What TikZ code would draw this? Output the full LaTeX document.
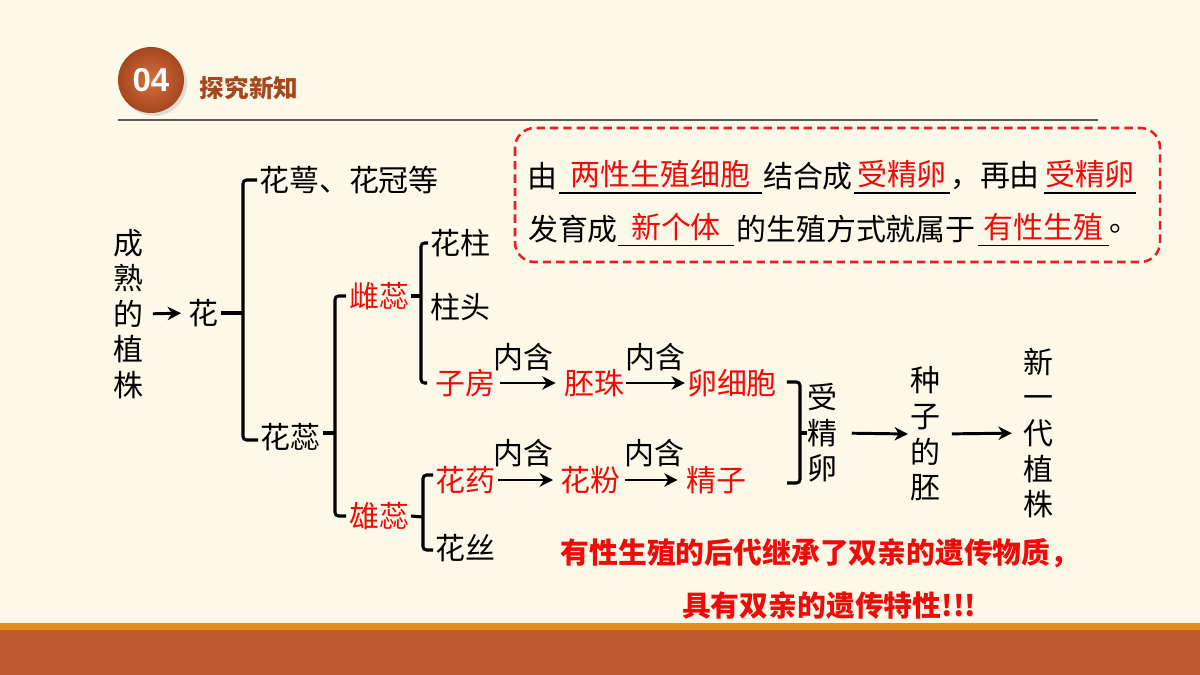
\documentclass[tikz,border=0pt]{standalone}
\usepackage{fontspec}
\setmainfont{Noto Sans CJK SC}
\newfontfamily\numfont{Liberation Sans}
\usetikzlibrary{arrows.meta,calc}
\definecolor{bg}{RGB}{253,249,233}
\definecolor{brn}{RGB}{190,90,45}
\definecolor{org}{RGB}{230,138,30}
\definecolor{hdr}{RGB}{165,72,32}
\definecolor{rd}{RGB}{240,10,10}
\definecolor{boxred}{RGB}{232,30,40}
\definecolor{circin}{RGB}{212,112,60}
\definecolor{circout}{RGB}{165,70,30}
\begin{document}
\begin{tikzpicture}[x=0.025cm,y=-0.025cm,
  every node/.style={inner sep=0pt, outer sep=0pt},
  t/.style={font=\fontsize{21.3}{25.3}\selectfont, align=center, text=black},
  r/.style={t, text=rd},
  blank/.style={r, minimum width=#1},
  br/.style={line width=2.2pt, rounded corners=2.5pt},
  arr/.style={line width=2.1pt, -{Stealth[length=9.5pt,width=9.5pt,inset=3pt]}},
  ul/.style={line width=0.9pt}]
\useasboundingbox (0,0) rectangle (1200,675);
\fill[bg] (0,0) rectangle (1200,675);
% bottom band
\fill[org] (0,623) rectangle (1200,630);
\fill[brn] (0,630) rectangle (1200,675);
% header
\fill[black!25,opacity=0.5] (154,83) circle (33);
\node[circle, minimum size=1.65cm, inner color=circin, outer color=circout,
      font=\numfont\bfseries\fontsize{23.5}{25}\selectfont, text=white] (num) at (151,80) {04};
\node[font=\bfseries\fontsize{17.5}{20}\selectfont, text=hdr] (title) at (249,88) {探究新知};
\draw[line width=0.8pt, black!65] (118,120) -- (1098,120);

% tree nodes
\node[t] (cs) at (128,314) {成\\熟\\的\\植\\株};
\node[t] (hua) at (203,313) {花};
\node[t] (hge) at (349,180) {花萼、花冠等};
\node[t] (hr) at (290,437) {花蕊};
\node[r] (cr) at (379,296) {雌蕊};
\node[r] (xr) at (379,516) {雄蕊};
\node[t] (hz) at (460,243) {花柱};
\node[t] (zt) at (460,307) {柱头};
\node[r] (zf) at (465,383) {子房};
\node[r] (pz) at (594,383) {胚珠};
\node[r] (lxb) at (732,383) {卵细胞};
\node[r] (hy) at (465,480) {花药};
\node[r] (hf) at (590,480) {花粉};
\node[r] (jz) at (716,480) {精子};
\node[t] (hs) at (465,548) {花丝};
\node[t] (n1) at (523,357) {内含};
\node[t] (n2) at (655,357) {内含};
\node[t] (n3) at (523,453) {内含};
\node[t] (n4) at (654,453) {内含};
\node[t] (sjl) at (822,433) {受\\精\\卵};
\node[t] (zz) at (925,434) {种\\子\\的\\胚};
\node[t] (xyd) at (1038,433) {新\\一\\代\\植\\株};

% arrows
\draw[arr, shorten <=7pt, shorten >=5pt] (cs.east) -- (hua.west);
\draw[arr, shorten <=3.5pt, shorten >=6pt] (zf.east) -- (pz.west);
\draw[arr, shorten <=1.5pt, shorten >=1.5pt] (pz.east) -- (lxb.west);
\draw[arr, shorten <=2pt, shorten >=5pt] (hy.east) -- (hf.west);
\draw[arr, shorten <=3.5pt, shorten >=6pt] (hf.east) -- (jz.west);
\draw[arr, shorten <=10.5pt, shorten >=1.5pt] (sjl.east) -- (zz.west);
\draw[arr, shorten <=8.5pt, shorten >=8pt] (zz.east) -- (xyd.west);

% brackets
\coordinate (s1) at (243,313);
\draw[br] ($(hua.east)+(3,0)$) -- (s1);
\draw[br] ($(hge.west)+(-2,0)$) -- (hge.west -| s1) -- ($(hr.west -| s1)+(0,3)$) -- ($(hr.west)+(-2,3)$);
\coordinate (s2) at (335,432);
\draw[br] ($(hr.east)+(3,-4)$) -- ($(hr.east -| s2)+(0,-4)$);
\draw[br] ($(cr.west)+(-3,0)$) -- (cr.west -| s2) -- (xr.west -| s2) -- ($(xr.west)+(-3,0)$);
\coordinate (s3) at (421,296);
\draw[br] ($(cr.east)+(2,0)$) -- (s3);
\draw[br] ($(hz.west)+(-2,0)$) -- (hz.west -| s3) -- (zf.west -| s3) -- ($(zf.west)+(-8,0)$);
\coordinate (s4) at (423,517);
\draw[br] ($(xr.east)+(2,0)$) -- (s4);
\draw[br] ($(hy.west)+(-2,-5)$) -- ($(hy.west -| s4)+(0,-5)$) -- ($(hs.west -| s4)+(0,2)$) -- ($(hs.west)+(-2,2)$);
\coordinate (s5) at (800,433);
\draw[br] ($(lxb.east)+(10,-1)$) -- ($(lxb.east -| s5)+(0,-1)$) -- ($(jz.east -| s5)+(0,3)$) -- ($(jz.east -| s5)+(-13,3)$);
\draw[br] (s5) -- (sjl.west);

% dashed box
\draw[boxred, line width=1.8pt, dash pattern=on 6pt off 3.5pt, rounded corners=14pt] (515,128) rectangle (1160,262);
\node[t] (a1) at (542,176) {由};
\node[blank=5.08cm] (b1) at (660.5,174) {两性生殖细胞};
\node[t] (a2) at (808,176) {结合成};
\node[blank=2.4cm] (b2) at (902,174) {受精卵};
\node[t] (a3) at (995,176) {，再由};
\node[blank=2.3cm] (b3) at (1090,174) {受精卵};
\node[t] (a4) at (573,229) {发育成};
\node[blank=2.9cm] (b4) at (676,227) {新个体};
\node[t] (a5) at (856,229) {的生殖方式就属于};
\node[blank=3.28cm] (b5) at (1043.5,227) {有性生殖};
\node[t] (a6) at (1124,229) {。};
\foreach \b in {b1,b2,b3,b4,b5}
  \draw[ul] ($(\b.south west)+(0,5)$) -- ($(\b.south east)+(0,5)$);

% conclusion
\node[font=\bfseries\fontsize{20.5}{24}\selectfont, text=rd] (c1) at (820,553) {有性生殖的后代继承了双亲的遗传物质，};
\node[font=\bfseries\fontsize{20.5}{24}\selectfont, text=rd] (c2) at (829,606) {具有双亲的遗传特性!!!};
\end{tikzpicture}
\end{document}
